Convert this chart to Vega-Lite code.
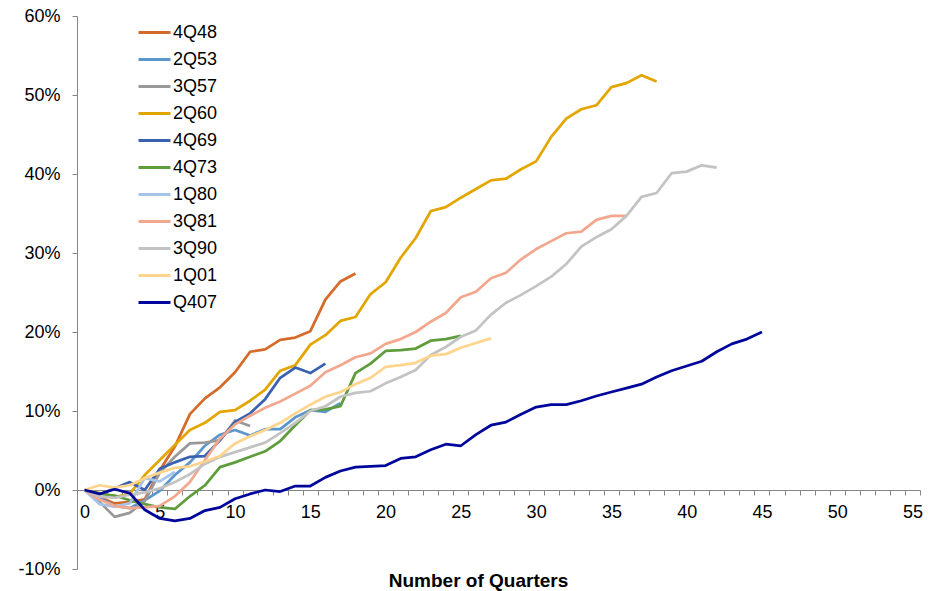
{
"$schema": "https://vega.github.io/schema/vega-lite/v6.json",
"width": 843, "height": 553,
"autosize": {"type": "none"},
"padding": {"left": 77, "top": 16, "right": 10, "bottom": 22},
"background": "white",
"config": {"view": {"stroke": null}, "font": "Liberation Sans"},
"datasets": {"gdp": [
{"s":"4Q48","q":0,"v":0},{"s":"4Q48","q":1,"v":-0.9},{"s":"4Q48","q":2,"v":-1.7},{"s":"4Q48","q":3,"v":-1.5},{"s":"4Q48","q":4,"v":-1.2},{"s":"4Q48","q":5,"v":2.5},{"s":"4Q48","q":6,"v":5.5},{"s":"4Q48","q":7,"v":9.6},{"s":"4Q48","q":8,"v":11.6},{"s":"4Q48","q":9,"v":13.0},{"s":"4Q48","q":10,"v":14.9},{"s":"4Q48","q":11,"v":17.5},{"s":"4Q48","q":12,"v":17.8},{"s":"4Q48","q":13,"v":19.0},{"s":"4Q48","q":14,"v":19.3},{"s":"4Q48","q":15,"v":20.1},{"s":"4Q48","q":16,"v":24.1},{"s":"4Q48","q":17,"v":26.4},{"s":"4Q48","q":18,"v":27.4},
{"s":"2Q53","q":0,"v":0},{"s":"2Q53","q":1,"v":-1.0},{"s":"2Q53","q":2,"v":-2.0},{"s":"2Q53","q":3,"v":-2.3},{"s":"2Q53","q":4,"v":-1.3},{"s":"2Q53","q":5,"v":-0.1},{"s":"2Q53","q":6,"v":1.9},{"s":"2Q53","q":7,"v":3.5},{"s":"2Q53","q":8,"v":5.6},{"s":"2Q53","q":9,"v":7.0},{"s":"2Q53","q":10,"v":7.6},{"s":"2Q53","q":11,"v":6.9},{"s":"2Q53","q":12,"v":7.7},{"s":"2Q53","q":13,"v":7.7},{"s":"2Q53","q":14,"v":9.2},{"s":"2Q53","q":15,"v":10.1},{"s":"2Q53","q":16,"v":9.9},{"s":"2Q53","q":17,"v":11.0},
{"s":"3Q57","q":0,"v":0},{"s":"3Q57","q":1,"v":-1.5},{"s":"3Q57","q":2,"v":-3.4},{"s":"3Q57","q":3,"v":-2.9},{"s":"3Q57","q":4,"v":-1.4},{"s":"3Q57","q":5,"v":2.2},{"s":"3Q57","q":6,"v":4.2},{"s":"3Q57","q":7,"v":5.9},{"s":"3Q57","q":8,"v":6.0},{"s":"3Q57","q":9,"v":6.3},{"s":"3Q57","q":10,"v":8.8},{"s":"3Q57","q":11,"v":8.1},
{"s":"2Q60","q":0,"v":0},{"s":"2Q60","q":1,"v":-0.4},{"s":"2Q60","q":2,"v":-0.9},{"s":"2Q60","q":3,"v":-0.5},{"s":"2Q60","q":4,"v":1.9},{"s":"2Q60","q":5,"v":3.8},{"s":"2Q60","q":6,"v":5.7},{"s":"2Q60","q":7,"v":7.6},{"s":"2Q60","q":8,"v":8.5},{"s":"2Q60","q":9,"v":9.9},{"s":"2Q60","q":10,"v":10.1},{"s":"2Q60","q":11,"v":11.3},{"s":"2Q60","q":12,"v":12.7},{"s":"2Q60","q":13,"v":15.1},{"s":"2Q60","q":14,"v":15.8},{"s":"2Q60","q":15,"v":18.4},{"s":"2Q60","q":16,"v":19.6},{"s":"2Q60","q":17,"v":21.4},{"s":"2Q60","q":18,"v":21.9},{"s":"2Q60","q":19,"v":24.8},{"s":"2Q60","q":20,"v":26.3},{"s":"2Q60","q":21,"v":29.4},{"s":"2Q60","q":22,"v":31.9},{"s":"2Q60","q":23,"v":35.3},{"s":"2Q60","q":24,"v":35.8},{"s":"2Q60","q":25,"v":37.0},{"s":"2Q60","q":26,"v":38.1},{"s":"2Q60","q":27,"v":39.2},{"s":"2Q60","q":28,"v":39.4},{"s":"2Q60","q":29,"v":40.6},{"s":"2Q60","q":30,"v":41.6},{"s":"2Q60","q":31,"v":44.7},{"s":"2Q60","q":32,"v":47.0},{"s":"2Q60","q":33,"v":48.2},{"s":"2Q60","q":34,"v":48.7},{"s":"2Q60","q":35,"v":51.0},{"s":"2Q60","q":36,"v":51.5},{"s":"2Q60","q":37,"v":52.5},{"s":"2Q60","q":38,"v":51.7},
{"s":"4Q69","q":0,"v":0},{"s":"4Q69","q":1,"v":-0.5},{"s":"4Q69","q":2,"v":0.2},{"s":"4Q69","q":3,"v":1.0},{"s":"4Q69","q":4,"v":0.0},{"s":"4Q69","q":5,"v":2.7},{"s":"4Q69","q":6,"v":3.5},{"s":"4Q69","q":7,"v":4.2},{"s":"4Q69","q":8,"v":4.3},{"s":"4Q69","q":9,"v":6.3},{"s":"4Q69","q":10,"v":8.6},{"s":"4Q69","q":11,"v":9.7},{"s":"4Q69","q":12,"v":11.5},{"s":"4Q69","q":13,"v":14.2},{"s":"4Q69","q":14,"v":15.5},{"s":"4Q69","q":15,"v":14.8},{"s":"4Q69","q":16,"v":16.0},
{"s":"4Q73","q":0,"v":0},{"s":"4Q73","q":1,"v":-0.5},{"s":"4Q73","q":2,"v":-0.7},{"s":"4Q73","q":3,"v":-1.3},{"s":"4Q73","q":4,"v":-1.8},{"s":"4Q73","q":5,"v":-2.2},{"s":"4Q73","q":6,"v":-2.4},{"s":"4Q73","q":7,"v":-0.8},{"s":"4Q73","q":8,"v":0.6},{"s":"4Q73","q":9,"v":2.9},{"s":"4Q73","q":10,"v":3.5},{"s":"4Q73","q":11,"v":4.2},{"s":"4Q73","q":12,"v":4.9},{"s":"4Q73","q":13,"v":6.2},{"s":"4Q73","q":14,"v":8.2},{"s":"4Q73","q":15,"v":10.1},{"s":"4Q73","q":16,"v":10.2},{"s":"4Q73","q":17,"v":10.6},{"s":"4Q73","q":18,"v":14.8},{"s":"4Q73","q":19,"v":16.0},{"s":"4Q73","q":20,"v":17.6},{"s":"4Q73","q":21,"v":17.7},{"s":"4Q73","q":22,"v":17.9},{"s":"4Q73","q":23,"v":18.9},{"s":"4Q73","q":24,"v":19.1},{"s":"4Q73","q":25,"v":19.5},
{"s":"1Q80","q":0,"v":0},{"s":"1Q80","q":1,"v":-1.8},{"s":"1Q80","q":2,"v":-2.1},{"s":"1Q80","q":3,"v":-1.7},{"s":"1Q80","q":4,"v":1.5},{"s":"1Q80","q":5,"v":1.1},{"s":"1Q80","q":6,"v":2.3},
{"s":"3Q81","q":0,"v":0},{"s":"3Q81","q":1,"v":-1.2},{"s":"3Q81","q":2,"v":-2.0},{"s":"3Q81","q":3,"v":-2.3},{"s":"3Q81","q":4,"v":-2.2},{"s":"3Q81","q":5,"v":-2.0},{"s":"3Q81","q":6,"v":-0.8},{"s":"3Q81","q":7,"v":1.0},{"s":"3Q81","q":8,"v":3.8},{"s":"3Q81","q":9,"v":6.5},{"s":"3Q81","q":10,"v":8.3},{"s":"3Q81","q":11,"v":9.4},{"s":"3Q81","q":12,"v":10.4},{"s":"3Q81","q":13,"v":11.2},{"s":"3Q81","q":14,"v":12.2},{"s":"3Q81","q":15,"v":13.2},{"s":"3Q81","q":16,"v":14.9},{"s":"3Q81","q":17,"v":15.8},{"s":"3Q81","q":18,"v":16.8},{"s":"3Q81","q":19,"v":17.3},{"s":"3Q81","q":20,"v":18.5},{"s":"3Q81","q":21,"v":19.1},{"s":"3Q81","q":22,"v":20.0},{"s":"3Q81","q":23,"v":21.3},{"s":"3Q81","q":24,"v":22.4},{"s":"3Q81","q":25,"v":24.4},{"s":"3Q81","q":26,"v":25.1},{"s":"3Q81","q":27,"v":26.8},{"s":"3Q81","q":28,"v":27.5},{"s":"3Q81","q":29,"v":29.2},{"s":"3Q81","q":30,"v":30.5},{"s":"3Q81","q":31,"v":31.5},{"s":"3Q81","q":32,"v":32.5},{"s":"3Q81","q":33,"v":32.7},{"s":"3Q81","q":34,"v":34.2},{"s":"3Q81","q":35,"v":34.7},{"s":"3Q81","q":36,"v":34.7},
{"s":"3Q90","q":0,"v":0},{"s":"3Q90","q":1,"v":-0.8},{"s":"3Q90","q":2,"v":-1.0},{"s":"3Q90","q":3,"v":-0.6},{"s":"3Q90","q":4,"v":-0.3},{"s":"3Q90","q":5,"v":0.2},{"s":"3Q90","q":6,"v":1.0},{"s":"3Q90","q":7,"v":2.0},{"s":"3Q90","q":8,"v":3.3},{"s":"3Q90","q":9,"v":4.2},{"s":"3Q90","q":10,"v":4.8},{"s":"3Q90","q":11,"v":5.4},{"s":"3Q90","q":12,"v":6.0},{"s":"3Q90","q":13,"v":7.2},{"s":"3Q90","q":14,"v":8.5},{"s":"3Q90","q":15,"v":10.0},{"s":"3Q90","q":16,"v":10.6},{"s":"3Q90","q":17,"v":11.8},{"s":"3Q90","q":18,"v":12.3},{"s":"3Q90","q":19,"v":12.5},{"s":"3Q90","q":20,"v":13.5},{"s":"3Q90","q":21,"v":14.3},{"s":"3Q90","q":22,"v":15.2},{"s":"3Q90","q":23,"v":17.1},{"s":"3Q90","q":24,"v":18.1},{"s":"3Q90","q":25,"v":19.4},{"s":"3Q90","q":26,"v":20.2},{"s":"3Q90","q":27,"v":22.2},{"s":"3Q90","q":28,"v":23.7},{"s":"3Q90","q":29,"v":24.7},{"s":"3Q90","q":30,"v":25.8},{"s":"3Q90","q":31,"v":27.0},{"s":"3Q90","q":32,"v":28.6},{"s":"3Q90","q":33,"v":30.8},{"s":"3Q90","q":34,"v":32.0},{"s":"3Q90","q":35,"v":33.0},{"s":"3Q90","q":36,"v":34.7},{"s":"3Q90","q":37,"v":37.1},{"s":"3Q90","q":38,"v":37.6},{"s":"3Q90","q":39,"v":40.1},{"s":"3Q90","q":40,"v":40.3},{"s":"3Q90","q":41,"v":41.1},{"s":"3Q90","q":42,"v":40.8},
{"s":"1Q01","q":0,"v":0},{"s":"1Q01","q":1,"v":0.6},{"s":"1Q01","q":2,"v":0.3},{"s":"1Q01","q":3,"v":0.6},{"s":"1Q01","q":4,"v":1.5},{"s":"1Q01","q":5,"v":2.2},{"s":"1Q01","q":6,"v":2.8},{"s":"1Q01","q":7,"v":3.0},{"s":"1Q01","q":8,"v":3.6},{"s":"1Q01","q":9,"v":4.3},{"s":"1Q01","q":10,"v":5.9},{"s":"1Q01","q":11,"v":6.8},{"s":"1Q01","q":12,"v":7.6},{"s":"1Q01","q":13,"v":8.5},{"s":"1Q01","q":14,"v":9.7},{"s":"1Q01","q":15,"v":10.8},{"s":"1Q01","q":16,"v":11.8},{"s":"1Q01","q":17,"v":12.4},{"s":"1Q01","q":18,"v":13.4},{"s":"1Q01","q":19,"v":14.2},{"s":"1Q01","q":20,"v":15.6},{"s":"1Q01","q":21,"v":15.8},{"s":"1Q01","q":22,"v":16.1},{"s":"1Q01","q":23,"v":17.0},{"s":"1Q01","q":24,"v":17.2},{"s":"1Q01","q":25,"v":18.0},{"s":"1Q01","q":26,"v":18.6},{"s":"1Q01","q":27,"v":19.2},
{"s":"Q407","q":0,"v":0},{"s":"Q407","q":1,"v":-0.5},{"s":"Q407","q":2,"v":0.1},{"s":"Q407","q":3,"v":-0.4},{"s":"Q407","q":4,"v":-2.5},{"s":"Q407","q":5,"v":-3.6},{"s":"Q407","q":6,"v":-3.9},{"s":"Q407","q":7,"v":-3.6},{"s":"Q407","q":8,"v":-2.6},{"s":"Q407","q":9,"v":-2.2},{"s":"Q407","q":10,"v":-1.1},{"s":"Q407","q":11,"v":-0.5},{"s":"Q407","q":12,"v":0.0},{"s":"Q407","q":13,"v":-0.2},{"s":"Q407","q":14,"v":0.5},{"s":"Q407","q":15,"v":0.5},{"s":"Q407","q":16,"v":1.6},{"s":"Q407","q":17,"v":2.4},{"s":"Q407","q":18,"v":2.9},{"s":"Q407","q":19,"v":3.0},{"s":"Q407","q":20,"v":3.1},{"s":"Q407","q":21,"v":4.0},{"s":"Q407","q":22,"v":4.2},{"s":"Q407","q":23,"v":5.1},{"s":"Q407","q":24,"v":5.8},{"s":"Q407","q":25,"v":5.6},{"s":"Q407","q":26,"v":7.0},{"s":"Q407","q":27,"v":8.2},{"s":"Q407","q":28,"v":8.6},{"s":"Q407","q":29,"v":9.6},{"s":"Q407","q":30,"v":10.5},{"s":"Q407","q":31,"v":10.8},{"s":"Q407","q":32,"v":10.8},{"s":"Q407","q":33,"v":11.3},{"s":"Q407","q":34,"v":11.9},{"s":"Q407","q":35,"v":12.4},{"s":"Q407","q":36,"v":12.9},{"s":"Q407","q":37,"v":13.4},{"s":"Q407","q":38,"v":14.3},{"s":"Q407","q":39,"v":15.1},{"s":"Q407","q":40,"v":15.7},{"s":"Q407","q":41,"v":16.3},{"s":"Q407","q":42,"v":17.5},{"s":"Q407","q":43,"v":18.5},{"s":"Q407","q":44,"v":19.1},{"s":"Q407","q":45,"v":20.0}
]},
"data": {"name": "gdp"},
"mark": {"type": "line", "strokeWidth": 2.75, "strokeJoin": "round", "clip": false},
"encoding": {
  "x": {"field": "q", "type": "quantitative",
    "scale": {"domain": [-0.5, 55.5], "nice": false, "zero": false},
    "axis": {"orient": "bottom", "offset": -79,
      "values": [-0.5,0,0.5,1.5,2.5,3.5,4.5,5,5.5,6.5,7.5,8.5,9.5,10,10.5,11.5,12.5,13.5,14.5,15,15.5,16.5,17.5,18.5,19.5,20,20.5,21.5,22.5,23.5,24.5,25,25.5,26.5,27.5,28.5,29.5,30,30.5,31.5,32.5,33.5,34.5,35,35.5,36.5,37.5,38.5,39.5,40,40.5,41.5,42.5,43.5,44.5,45,45.5,46.5,47.5,48.5,49.5,50,50.5,51.5,52.5,53.5,54.5,55,55.5],
      "labelExpr": "datum.value % 5 === 0 ? datum.value : ''",
      "tickOpacity": {"condition": {"test": "datum.value % 1 !== 0", "value": 1}, "value": 0},
      "tickSize": 5, "tickColor": "#868686", "tickWidth": 1,
      "domainColor": "#868686", "domainWidth": 1,
      "labelFontSize": 18, "labelColor": "#000000", "labelPadding": 8,
      "labelOverlap": false, "labelBound": false, "labelFlush": false, "grid": false,
      "title": "Number of Quarters", "titleFontSize": 19, "titleFontWeight": "bold", "titleColor": "#000000",
      "titleX": 401, "titleY": 96, "titleBaseline": "alphabetic", "titleAlign": "center", "titleAnchor": null}},
  "y": {"field": "v", "type": "quantitative",
    "scale": {"domain": [-10, 60], "nice": false, "zero": false},
    "axis": {"values": [-10,0,10,20,30,40,50,60], "labelExpr": "datum.value + '%'",
      "tickSize": 5, "tickColor": "#868686", "domainColor": "#868686",
      "labelFontSize": 18, "labelColor": "#000000", "labelPadding": 12, "grid": false, "title": null}},
  "color": {"field": "s", "type": "nominal",
    "scale": {"domain": ["4Q48","2Q53","3Q57","2Q60","4Q69","4Q73","1Q80","3Q81","3Q90","1Q01","Q407"],
      "range": ["#D56B2A","#5B97CC","#999999","#E3A600","#3A62B0","#5E9C3C","#A5C4E8","#F2A88E","#C3C3C3","#FFD58E","#00069A"]},
    "legend": {"orient": "none", "legendX": 60, "legendY": -1, "title": null,
      "symbolType": "stroke", "symbolSize": 1024, "symbolStrokeWidth": 3,
      "labelFontSize": 18, "labelColor": "#000000", "labelOffset": 1, "rowPadding": -0.2}}
}
}
